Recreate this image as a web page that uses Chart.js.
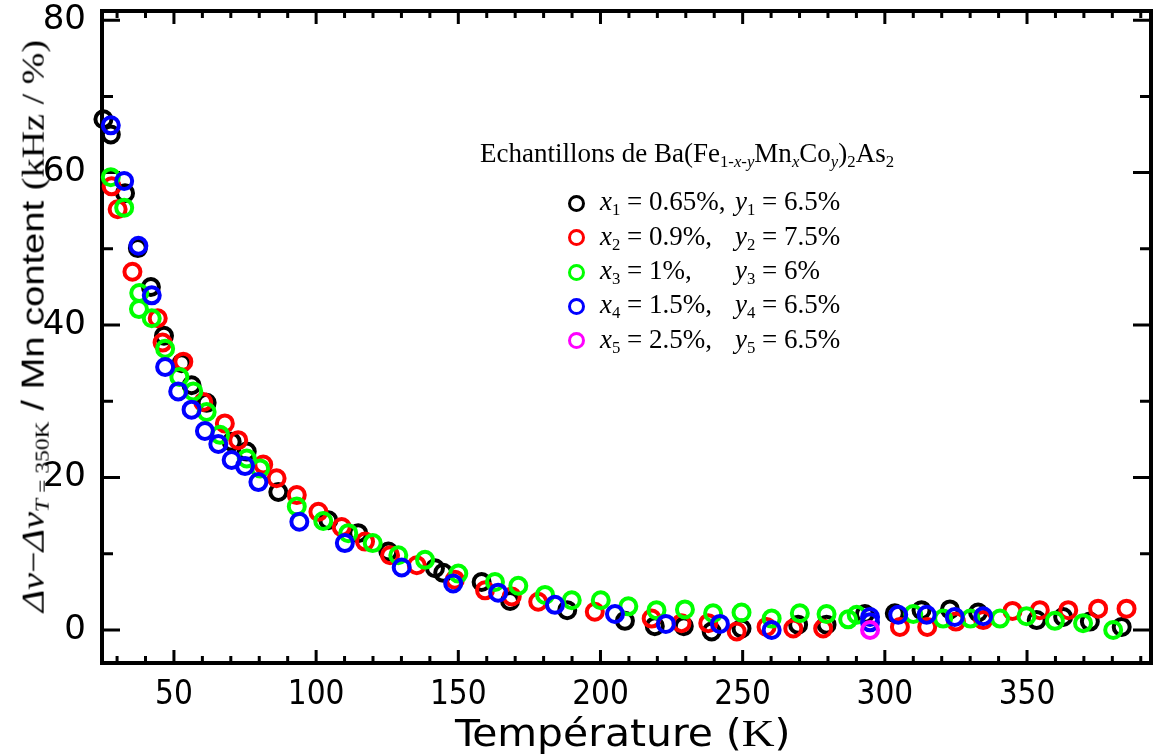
<!DOCTYPE html>
<html><head><meta charset="utf-8">
<script src="https://cdn.jsdelivr.net/npm/chart.js@4.4.1/dist/chart.umd.min.js"></script>
<style>
html,body{margin:0;padding:0;background:#fff;}
#wrap{position:relative;width:1154px;height:756px;overflow:hidden;background:#fff;}
#c{position:absolute;left:0;top:0;}
.ov{position:absolute;white-space:nowrap;color:#000;}
.serif{font-family:'Liberation Serif','DejaVu Serif',serif;}
.sans{font-family:'Liberation Sans',Arial,sans-serif;}
.narrow{font-family:'Liberation Sans Narrow','DejaVu Sans Condensed',sans-serif;}
sub{font-size:0.62em;vertical-align:-0.28em;line-height:0;}
.lg{font-size:27px;line-height:27px;}
.mk{position:absolute;width:11px;height:11px;border:3.5px solid #000;border-radius:50%;}
</style></head>
<body>
<div id="wrap">
<canvas id="c" width="1154" height="756"></canvas>
<div id="ytitle" class="ov" style="font-size:31px;line-height:34px;"><span class="serif"><i>Δν</i>−<i>Δν</i><sub><i>T</i> = 350K</sub></span><span class="sans"> / Mn content </span><span class="serif">(kHz / %)</span></div>
<div id="xtitle" class="ov narrow" style="font-size:37px;line-height:40px;">Température (<span class="serif">K</span>)</div>
<div id="legend"></div>
</div>
<script>
// ---- data (T in K, value in kHz/%) ----
const seriesLabels = ["x1 = 0.65%, y1 = 6.5%", "x2 = 0.9%, y2 = 7.5%", "x3 = 1%, y3 = 6%", "x4 = 1.5%, y4 = 6.5%", "x5 = 2.5%, y5 = 6.5%"];
const blackT = [25.2, 27.8, 32.8, 37.3, 41.9, 46.5, 52.7, 56.2, 61.5, 70.3, 75.6, 86.7, 104.3, 114.8, 125.4, 141.8, 144.7, 158.2, 168.2, 188.3, 208.6, 219.1, 229.3, 239.1, 249.6, 269.5, 279.5, 293.0, 303.5, 312.9, 322.9, 332.8, 353.4, 362.7, 372.1, 383.3];
const blackV = [67.0, 65.0, 57.3, 50.1, 45.0, 38.6, 35.0, 32.1, 29.8, 24.7, 23.4, 18.1, 14.4, 12.7, 10.3, 8.1, 7.5, 6.3, 3.8, 2.6, 1.2, 0.5, 0.5, -0.2, 0.2, 0.7, 0.7, 2.1, 2.2, 2.6, 2.7, 2.3, 1.3, 1.7, 1.1, 0.4];
const redT = [28.1, 30.2, 35.4, 44.3, 46.0, 53.3, 60.3, 67.9, 72.6, 81.4, 86.1, 93.2, 100.8, 109.0, 117.2, 126.0, 135.4, 148.8, 159.4, 168.8, 178.1, 198.0, 218.0, 228.5, 237.9, 247.9, 258.4, 267.8, 278.3, 305.3, 314.9, 325.0, 334.6, 344.9, 354.5, 364.5, 375.0, 385.0];
const redV = [58.2, 55.2, 47.0, 40.9, 37.7, 35.2, 29.9, 27.1, 24.9, 21.7, 19.9, 17.7, 15.5, 13.5, 11.6, 9.8, 8.5, 6.6, 5.2, 4.4, 3.7, 2.4, 1.5, 0.9, 0.9, -0.2, 0.4, 0.2, 0.2, 0.4, 0.4, 1.1, 1.3, 2.5, 2.6, 2.6, 2.8, 2.8];
const greenT = [27.8, 32.5, 37.8, 37.7, 42.2, 46.9, 51.9, 56.8, 61.5, 66.2, 75.6, 80.3, 93.2, 102.5, 111.3, 119.9, 128.9, 138.3, 150.0, 162.9, 171.1, 180.5, 189.9, 200.1, 209.8, 219.7, 229.7, 239.6, 249.6, 260.2, 270.1, 279.5, 287.1, 290.1, 310.0, 320.5, 330.1, 340.5, 349.8, 359.8, 369.7, 380.3];
const greenV = [59.4, 55.4, 44.2, 42.1, 40.9, 36.9, 33.2, 31.3, 28.6, 25.6, 22.5, 21.2, 16.2, 14.3, 12.7, 11.4, 9.8, 9.2, 7.4, 6.3, 5.8, 4.6, 3.9, 3.9, 3.1, 2.6, 2.7, 2.2, 2.3, 1.5, 2.2, 2.1, 1.4, 2.0, 2.1, 1.5, 1.5, 1.5, 1.8, 1.2, 0.9, 0.0];
const blueT = [27.8, 32.5, 37.5, 42.2, 46.9, 51.5, 56.2, 60.9, 65.6, 70.3, 75.0, 79.7, 94.1, 110.1, 130.1, 148.2, 164.0, 184.0, 205.1, 223.0, 242.0, 260.2, 294.8, 294.8, 304.7, 314.7, 324.6, 334.6];
const blueV = [66.2, 58.9, 50.4, 43.9, 34.5, 31.3, 28.9, 26.1, 24.4, 22.3, 21.5, 19.4, 14.2, 11.4, 8.2, 6.1, 4.9, 3.3, 2.1, 0.8, 0.8, 0.0, 1.7, 1.0, 2.0, 2.0, 1.7, 1.8];
const magentaT = [294.8];
const magentaV = [0.0];
const seriesColors = ["#000000", "#ff0000", "#00ff00", "#0000ff", "#ff00ff"];
const xTickLabels = [50, 100, 150, 200, 250, 300, 350];
const xMinorTicks = [30, 40, 60, 70, 80, 90, 110, 120, 130, 140, 160, 170, 180, 190, 210, 220, 230, 240, 260, 270, 280, 290, 310, 320, 330, 340, 360, 370, 380, 390];
const yTickLabels = [0, 20, 40, 60, 80];
const yMinorTicks = [10, 30, 50, 70];

const seriesT = [blackT, redT, greenT, blueT, magentaT];
const seriesV = [blackV, redV, greenV, blueV, magentaV];

const datasets = seriesT.map((T, i) => ({
  label: seriesLabels[i],
  data: T.map((t, j) => ({x: t, y: seriesV[i][j]})),
  borderColor: seriesColors[i],
  backgroundColor: 'rgba(0,0,0,0)',
  pointRadius: 8,
  pointHoverRadius: 8,
  pointBorderWidth: 4,
  showLine: false,
  order: 4 - i,
  clip: false
}));

const frameTicks = {
  id: 'frameTicks',
  beforeDatasetsDraw(chart) {
    const {ctx, chartArea: a, scales: {x, y}} = chart;
    ctx.save();
    ctx.strokeStyle = '#000';
    ctx.lineWidth = 3;
    ctx.beginPath();
    const tick = (v, len, horiz) => {
      if (horiz) {
        const px = x.getPixelForValue(v);
        ctx.moveTo(px, a.bottom); ctx.lineTo(px, a.bottom - len);
        ctx.moveTo(px, a.top); ctx.lineTo(px, a.top + len);
      } else {
        const py = y.getPixelForValue(v);
        ctx.moveTo(a.left, py); ctx.lineTo(a.left + len, py);
        ctx.moveTo(a.right, py); ctx.lineTo(a.right - len, py);
      }
    };
    xTickLabels.forEach(v => tick(v, 13, true));
    xMinorTicks.forEach(v => tick(v, 7, true));
    yTickLabels.forEach(v => tick(v, 18, false));
    yMinorTicks.forEach(v => tick(v, 11, false));
    ctx.stroke();
    ctx.lineWidth = 4;
    ctx.strokeRect(a.left, a.top, a.right - a.left, a.bottom - a.top);
    ctx.restore();
  }
};

const noPad = s => { s.paddingTop = 0; s.paddingBottom = 0; s.paddingLeft = 0; s.paddingRight = 0; };

new Chart(document.getElementById('c'), {
  type: 'scatter',
  data: {datasets},
  options: {
    responsive: false,
    devicePixelRatio: 1,
    animation: false,
    layout: {autoPadding: false, padding: {top: 11, right: 3, left: 0, bottom: 0}},
    plugins: {legend: {display: false}, tooltip: {enabled: false}, title: {display: false}},
    scales: {
      x: {
        type: 'linear', min: 24.7, max: 393.6,
        grid: {display: false, drawTicks: false},
        border: {display: false},
        afterBuildTicks: s => { s.ticks = xTickLabels.map(v => ({value: v})); },
        afterFit: s => { s.height = 93; noPad(s); },
        ticks: {autoSkip: false, maxRotation: 0, padding: 13, color: '#000',
          font: {family: "'Liberation Sans Narrow','DejaVu Sans Condensed',sans-serif", size: 33}}
      },
      y: {
        type: 'linear', min: -4.33, max: 81.2,
        grid: {display: false, drawTicks: false},
        border: {display: false},
        afterBuildTicks: s => { s.ticks = yTickLabels.map(v => ({value: v})); },
        afterFit: s => { s.width = 102; noPad(s); },
        ticks: {autoSkip: false, padding: 16, color: '#000',
          font: {family: "'DejaVu Sans',sans-serif", size: 34}}
      }
    }
  },
  plugins: [frameTicks]
});

// ---- overlay legend ----
const legendTitle = 'Echantillons de Ba(Fe<sub>1-<i>x</i>-<i>y</i></sub>Mn<sub><i>x</i></sub>Co<sub><i>y</i></sub>)<sub>2</sub>As<sub>2</sub>';
const legendX = ['0.65%,', '0.9%,', '1%,', '1.5%,', '2.5%,'];
const legendY = ['6.5%', '7.5%', '6%', '6.5%', '6.5%'];
const lg = document.getElementById('legend');
let html = `<div class="ov serif lg" style="left:480px;top:${163 - 22.6}px;">${legendTitle}</div>`;
for (let i = 0; i < 5; i++) {
  const b = 211 + i * 34.3;
  html += `<div class="mk" style="left:${577.3 - 9}px;top:${b - 7 - 9}px;border-color:${seriesColors[i]}"></div>`;
  html += `<div class="ov serif lg" style="left:600px;top:${b - 22.6}px;"><i>x</i><sub>${i + 1}</sub> = ${legendX[i]}</div>`;
  html += `<div class="ov serif lg" style="left:735px;top:${b - 22.6}px;"><i>y</i><sub>${i + 1}</sub> = ${legendY[i]}</div>`;
}
lg.innerHTML = html;

// ---- axis titles fitted to their reference extents ----
function place(el, cx, cy, targetLen, rot) {
  const w = el.offsetWidth, h = el.offsetHeight;
  const s = targetLen / w;
  el.style.left = (cx - w / 2) + 'px';
  el.style.top = (cy - h / 2) + 'px';
  el.style.transform = (rot ? 'rotate(-90deg) ' : '') + `scaleX(${s})`;
}
place(document.getElementById('xtitle'), 622, 734, 335, false);
place(document.getElementById('ytitle'), 33, 326, 572, true);
</script>
</body></html>
